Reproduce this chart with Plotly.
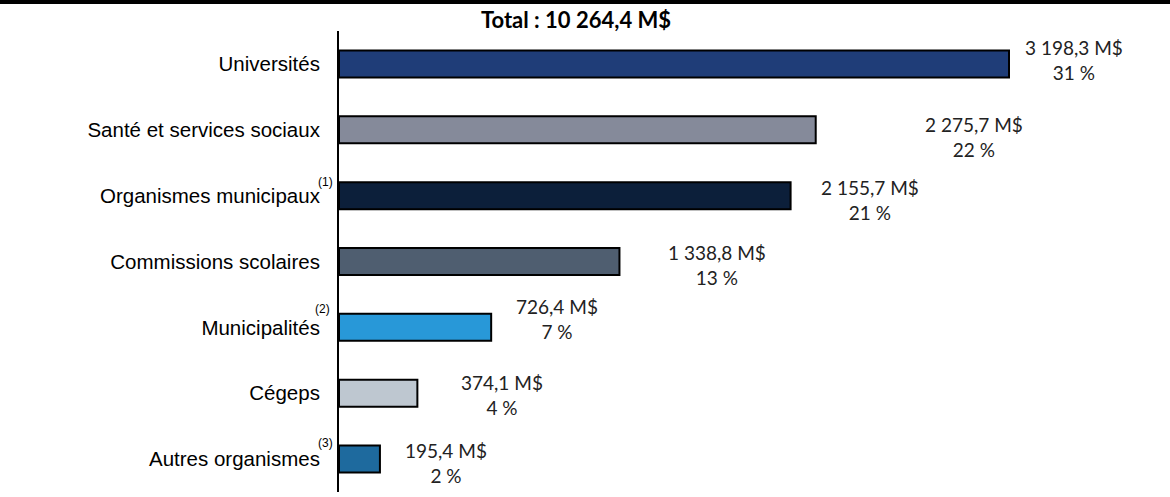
import plotly.graph_objects as go

categories = ["Universités", "Santé et services sociaux", "Organismes municipaux",
              "Commissions scolaires", "Municipalités", "Cégeps", "Autres organismes"]
values = [3198.3, 2275.7, 2155.7, 1338.8, 726.4, 374.1, 195.4]
value_labels = ["3 198,3 M$", "2 275,7 M$", "2 155,7 M$", "1 338,8 M$", "726,4 M$", "374,1 M$", "195,4 M$"]
pct_labels = ["31 %", "22 %", "21 %", "13 %", "7 %", "4 %", "2 %"]
notes = {"Organismes municipaux": "(1)", "Municipalités": "(2)", "Autres organismes": "(3)"}
title_text = "Total : 10 264,4 M$"

colors = ["#1F3D78", "#858A9A", "#0C1F3A", "#4F5E70", "#2898D8", "#BEC7D0", "#1E6A9E"]
# pixel offsets of value labels (style)
label_dx = [65, 158, 79, 98, 66, 85, 66]
label_dy = [4, -7.5, -4.5, -3, 8, -2, -4]
note_dx = {"Organismes municipaux": -14, "Municipalités": -17, "Autres organismes": -14}
note_dy = {"Organismes municipaux": 14, "Municipalités": 18.5, "Autres organismes": 16.5}

fig = go.Figure(go.Bar(
    x=values, y=categories, orientation="h",
    marker=dict(color=colors, line=dict(color="#000000", width=2)),
    width=0.41, hoverinfo="skip",
))

ann = []
for c, v, vl, pl, dx, dy in zip(categories, values, value_labels, pct_labels, label_dx, label_dy):
    ann.append(dict(x=v, y=c, xref="x", yref="y", text=f"{vl}<br>{pl}", showarrow=False,
                    xanchor="center", yanchor="middle", xshift=dx, yshift=dy,
                    font=dict(family="Lato", size=19, color="#222222")))
for c, t in notes.items():
    ann.append(dict(x=0, y=c, xref="paper", yref="y", text=t, showarrow=False,
                    xanchor="center", yanchor="middle", xshift=note_dx[c], yshift=note_dy[c],
                    font=dict(family="Liberation Sans", size=12, color="#000000")))

fig.update_layout(
    width=1170, height=497,
    margin=dict(l=339, r=20, t=31, b=5),
    plot_bgcolor="white", paper_bgcolor="white",
    showlegend=False,
    title=dict(text=f"<b>{title_text}</b>", x=576/1170, xanchor="center",
               y=1 - 20/497, yanchor="middle",
               font=dict(family="Lato", size=22, color="#000000")),
    xaxis=dict(visible=False, range=[0, 3871.4]),
    yaxis=dict(autorange="reversed", showline=True, linecolor="#000000", linewidth=2,
               showgrid=False, zeroline=False, ticks="", ticklabelstandoff=13,
               tickfont=dict(family="Liberation Sans", size=20.5, color="#000000")),
    annotations=ann,
    shapes=[dict(type="rect", xref="paper", yref="paper", x0=-0.5, x1=1.5,
                 y0=1 + 27/461, y1=1.2, fillcolor="#000000", line=dict(width=0), layer="above")],
)

fig.write_html("out.html", config={"displayModeBar": False},
               post_script="document.body.style.margin='0';document.body.style.overflow='hidden';")
